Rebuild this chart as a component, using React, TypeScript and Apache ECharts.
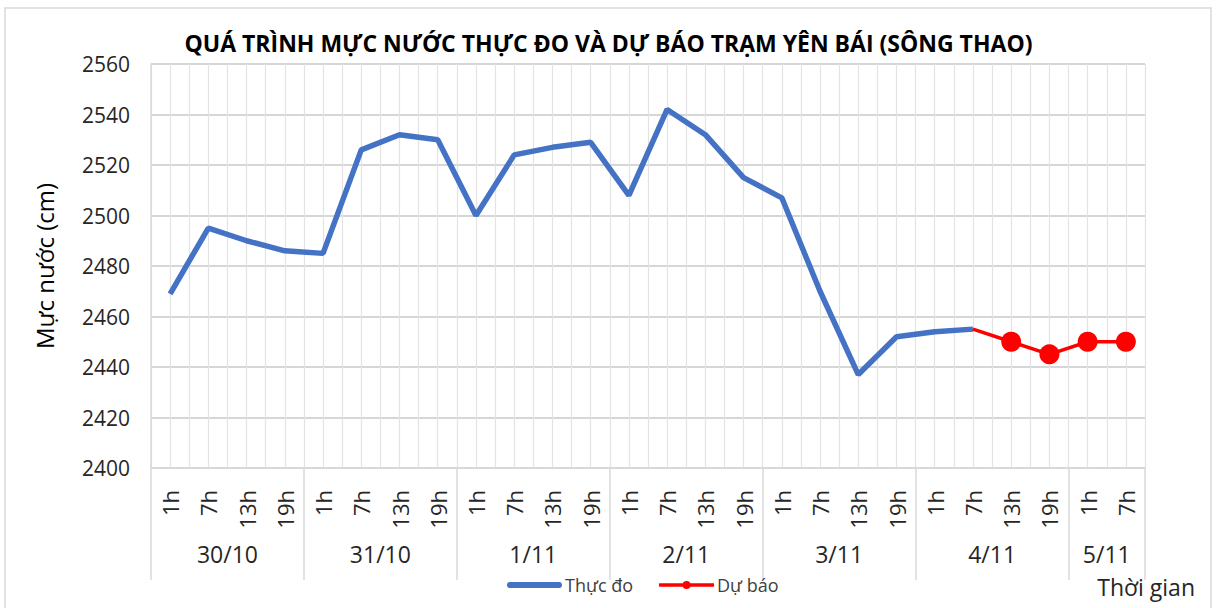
import React, { useEffect, useRef } from "react";
import * as echarts from "echarts";

const hours = [
  "1h", "7h", "13h", "19h",
  "1h", "7h", "13h", "19h",
  "1h", "7h", "13h", "19h",
  "1h", "7h", "13h", "19h",
  "1h", "7h", "13h", "19h",
  "1h", "7h", "13h", "19h",
  "1h", "7h",
];
const days = ["30/10", "31/10", "1/11", "2/11", "3/11", "4/11", "5/11"];
const dayHourCounts = [4, 4, 4, 4, 4, 4, 2];

const observed: (number | null)[] = [
  2469, 2495, 2490, 2486,
  2485, 2526, 2532, 2530,
  2500, 2524, 2527, 2529,
  2508, 2542, 2532, 2515,
  2507, 2470, 2437, 2452,
  2454, 2455, null, null,
  null, null,
];
const forecast: (number | null)[] = [
  null, null, null, null,
  null, null, null, null,
  null, null, null, null,
  null, null, null, null,
  null, null, null, null,
  null, 2455, 2450, 2445,
  2450, 2450,
];
const forecastStartIndex = 21;

const yMin = 2400;
const yMax = 2560;
const yStep = 20;

const FONT = "'Open Sans', 'Noto Sans', sans-serif";

const BLUE_ICON = "path://M3,0 L53,0 A3,3 0 0 1 53,6 L3,6 A3,3 0 0 1 3,0 Z";
const RED_ICON =
  "path://M0,2.2 L55,2.2 L55,5.8 L0,5.8 Z M23.5,4 A4,4 0 1 1 31.5,4 A4,4 0 1 1 23.5,4 Z";

export default function App() {
  const ref = useRef<HTMLDivElement>(null);

  useEffect(() => {
    if (!ref.current) return;
    const chart = echarts.init(ref.current, undefined, { renderer: "svg" });

    const dayCenters: Record<string, string> = {};
    const dayStarts = new Set<number>();
    let acc = 0;
    days.forEach((d, i) => {
      dayStarts.add(acc);
      dayCenters[String(acc + dayHourCounts[i] / 2)] = d;
      acc += dayHourCounts[i];
    });

    const forecastData = forecast.map((v, i) =>
      i === forecastStartIndex ? { value: v, symbol: "none" } : v
    );

    chart.setOption({
      animation: false,
      backgroundColor: "#ffffff",
      title: {
        text: "QUÁ TRÌNH MỰC NƯỚC THỰC ĐO VÀ DỰ BÁO TRẠM YÊN BÁI (SÔNG THAO)",
        left: "center",
        top: 26,
        textStyle: {
          fontFamily: FONT,
          fontSize: 23,
          fontWeight: "bold",
          color: "#000000",
        },
      },
      graphic: [
        {
          type: "rect",
          shape: { x: 5, y: 8, width: 1206, height: 620 },
          style: { fill: "none", stroke: "#d9d9d9", lineWidth: 1.5 },
          silent: true,
        },
        {
          type: "text",
          right: 22,
          top: 575,
          style: {
            text: "Thời gian",
            fontFamily: FONT,
            fontSize: 23,
            fill: "#262626",
          },
        },
      ],
      legend: {
        bottom: 9,
        left: 502,
        itemWidth: 55,
        itemHeight: 8,
        itemGap: 26,
        textStyle: {
          fontFamily: FONT,
          fontSize: 18,
          color: "#404040",
          padding: [0, 0, 0, -2],
        },
        data: [
          { name: "Thực đo", icon: BLUE_ICON, itemStyle: { color: "#4472C4" } },
          { name: "Dự báo", icon: RED_ICON, itemStyle: { color: "#FF0000" } },
        ],
      },
      grid: { left: 151, right: 72, top: 64, bottom: 140 },
      xAxis: [
        {
          type: "category",
          data: hours,
          boundaryGap: true,
          axisLine: { show: true, lineStyle: { color: "#d9d9d9", width: 1.5 } },
          axisTick: {
            show: true,
            length: 112,
            interval: (idx: number) => dayStarts.has(idx),
            lineStyle: { color: "#d9d9d9", width: 1.5 },
          },
          axisLabel: {
            rotate: 90,
            interval: 0,
            margin: 22,
            fontFamily: FONT,
            fontSize: 22,
            color: "#262626",
          },
          splitLine: { show: false },
        },
        {
          type: "value",
          min: 0,
          max: hours.length,
          interval: 0.5,
          position: "bottom",
          offset: 70,
          axisLine: { show: false },
          axisTick: { show: false },
          axisLabel: {
            margin: 4,
            fontFamily: FONT,
            fontSize: 23,
            color: "#262626",
            showMinLabel: true,
            showMaxLabel: true,
            formatter: (v: number) =>
              dayCenters[String(Math.round(v * 2) / 2)] || "",
          },
          splitLine: { show: true, lineStyle: { color: "#e3e3e3", width: 1.2 } },
        },
      ],
      yAxis: {
        type: "value",
        min: yMin,
        max: yMax,
        interval: yStep,
        name: "Mực nước (cm)",
        nameLocation: "middle",
        nameGap: 95,
        nameTextStyle: { fontFamily: FONT, fontSize: 24, color: "#000000" },
        axisLine: { show: true, lineStyle: { color: "#d9d9d9", width: 1.5 } },
        axisTick: { show: false },
        axisLabel: {
          margin: 21,
          fontFamily: FONT,
          fontSize: 21,
          color: "#262626",
          formatter: (v: number) => String(v),
        },
        splitLine: { show: true, lineStyle: { color: "#c8c8c8", width: 1.5 } },
      },
      series: [
        {
          name: "Thực đo",
          type: "line",
          xAxisIndex: 0,
          data: observed,
          symbol: "none",
          showSymbol: false,
          lineStyle: { color: "#4472C4", width: 5.5 },
          itemStyle: { color: "#4472C4" },
          connectNulls: false,
          z: 2,
        },
        {
          name: "Dự báo",
          type: "line",
          xAxisIndex: 0,
          data: forecastData,
          symbol: "circle",
          symbolSize: 20,
          lineStyle: { color: "#FF0000", width: 3.5 },
          itemStyle: { color: "#FF0000" },
          connectNulls: false,
          z: 3,
        },
      ],
    });

    return () => chart.dispose();
  }, []);

  return (
    <div
      ref={ref}
      style={{
        position: "absolute",
        left: 0,
        top: 0,
        width: 1217,
        height: 608,
        background: "#ffffff",
      }}
    />
  );
}
